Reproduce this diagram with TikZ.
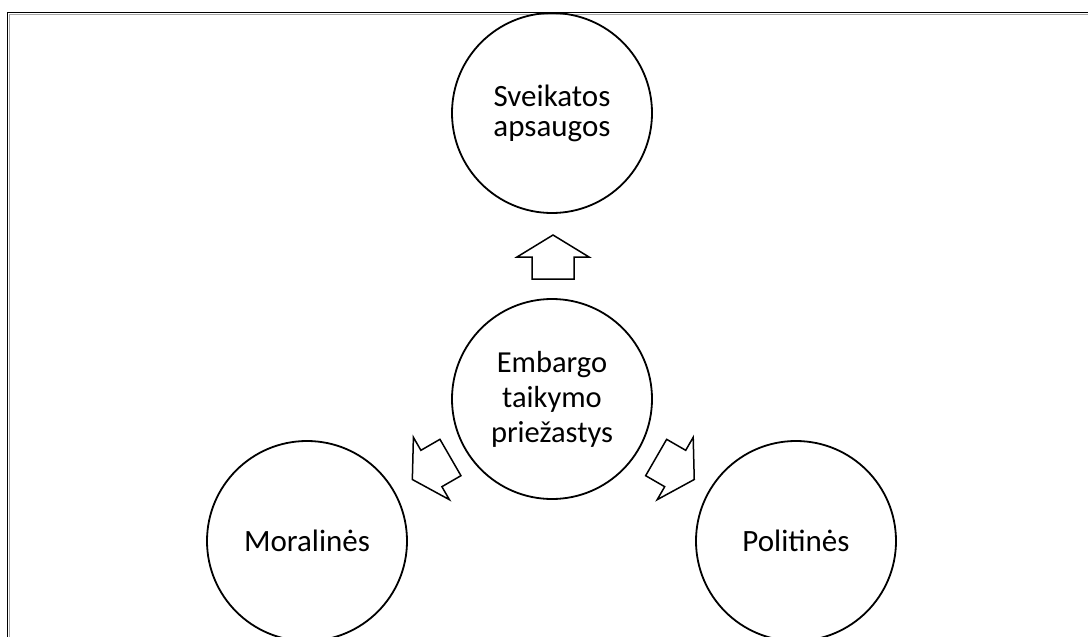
\documentclass[tikz,border=0pt]{standalone}
\usepackage{fontspec}
\setmainfont{Carlito}
\begin{document}
\begin{tikzpicture}[x=1pt,y=-1pt,
  circ/.style={draw,circle,line width=1.8pt,minimum size=200pt,inner sep=0pt,align=center},
  txta/.style={font=\fontsize{31}{30}\selectfont},
  txtb/.style={font=\fontsize{30.5}{35}\selectfont},
  blockarr/.pic={\draw[line width=1.5pt,line join=miter] (0,-22) -- (36,0) -- (21,0) -- (21,22) -- (-21,22) -- (-21,0) -- (-36,0) -- cycle;}
]
\useasboundingbox (0,0) rectangle (1088,637);
\draw[line width=1.3pt] (7.5,637) -- (7.5,12.5) -- (1088,12.5);
\draw[line width=0.8pt,black!35] (9.2,637) -- (9.2,14.2) -- (1088,14.2);
\node[circ,txta] (top) at (552,113) {Sveikatos\\apsaugos};
\node[circ,txtb] (mid) at (552,399) {Embargo\\taikymo\\priežastys};
\node[circ,txta] (left) at (307,541) {Moralinės};
\node[circ,txta] (right) at (796,541) {Politinės};
\pic at (553,257) {blockarr};
\pic[rotate=120] at (431.4,468.5) {blockarr};
\pic[rotate=-120] at (675.2,468.5) {blockarr};
\end{tikzpicture}
\end{document}
